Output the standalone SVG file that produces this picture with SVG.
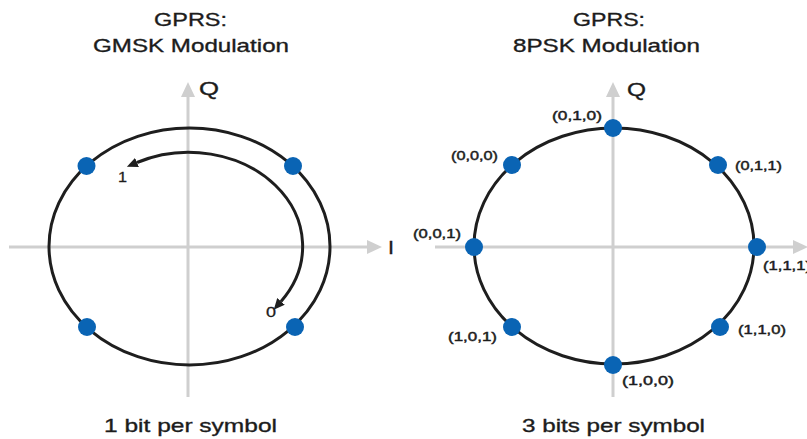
<svg xmlns="http://www.w3.org/2000/svg" width="807" height="439" viewBox="0 0 807 439">
<style>
  text { font-family: "Liberation Sans", Arial, sans-serif; fill: #1c1c1c; }
  .title { font-size: 19px; stroke: #1c1c1c; stroke-width: 0.35; }
  .axlab { font-size: 19px; stroke: #1c1c1c; stroke-width: 0.35; }
  .lab { font-size: 13px; stroke: #1c1c1c; stroke-width: 0.45; }
  .num { font-size: 15px; stroke: #1c1c1c; stroke-width: 0.3; }
  .cap { font-size: 19px; stroke: #1c1c1c; stroke-width: 0.35; }
  .axis { stroke: #cfcfcf; stroke-width: 3; fill: none; }
  .ring { stroke: #1e1e1e; stroke-width: 3; fill: none; }
  .arc { stroke: #1e1e1e; stroke-width: 3; fill: none; }
  .dot { fill: #0a64b4; }
</style>
<defs>
  <marker id="axhead" markerUnits="userSpaceOnUse" markerWidth="16" markerHeight="14" refX="0" refY="7" orient="auto">
    <path d="M0,0 L15,7 L0,14 z" fill="#cfcfcf"/>
  </marker>
  <marker id="archead" markerUnits="userSpaceOnUse" markerWidth="12" markerHeight="10" refX="0" refY="5" orient="auto-start-reverse">
    <path d="M0,0 L11,5 L0,10 z" fill="#1e1e1e"/>
  </marker>
</defs>
<rect width="807" height="439" fill="#ffffff"/>

<g id="titles">
  <text class="title" x="154" y="26" textLength="73" lengthAdjust="spacingAndGlyphs">GPRS:</text>
  <text class="title" x="93" y="52" textLength="196" lengthAdjust="spacingAndGlyphs">GMSK Modulation</text>
  <text class="title" x="573" y="26" textLength="72" lengthAdjust="spacingAndGlyphs">GPRS:</text>
  <text class="title" x="513" y="52" textLength="187" lengthAdjust="spacingAndGlyphs">8PSK Modulation</text>
  <text class="cap" x="104" y="432" textLength="173" lengthAdjust="spacingAndGlyphs">1 bit per symbol</text>
  <text class="cap" x="522" y="432" textLength="183" lengthAdjust="spacingAndGlyphs">3 bits per symbol</text>
</g>

<g id="connectors">
  <line class="axis" x1="188" y1="397" x2="188" y2="97" marker-end="url(#axhead)"/>
  <line class="axis" x1="9" y1="247" x2="367" y2="247" marker-end="url(#axhead)"/>
  <line class="axis" x1="613" y1="397" x2="613" y2="97" marker-end="url(#axhead)"/>
  <line class="axis" x1="435" y1="247" x2="793" y2="247" marker-end="url(#axhead)"/>
  <ellipse class="ring" cx="189.5" cy="246.5" rx="140.5" ry="118.5"/>
  <ellipse class="ring" cx="614" cy="246" rx="140" ry="118"/>
  <path class="arc" d="M 137 162.5 A 114 94 0 0 1 281 301.4" marker-start="url(#archead)" marker-end="url(#archead)"/>
</g>

<g id="axis-labels">
  <text class="axlab" x="199" y="95" textLength="20" lengthAdjust="spacingAndGlyphs">Q</text>
  <text class="axlab" x="388" y="254" textLength="6" lengthAdjust="spacingAndGlyphs">I</text>
  <text class="axlab" x="627" y="96" textLength="19" lengthAdjust="spacingAndGlyphs">Q</text>
  <text class="num" x="118" y="182" textLength="9" lengthAdjust="spacingAndGlyphs">1</text>
  <text class="num" x="266" y="317" textLength="10" lengthAdjust="spacingAndGlyphs">0</text>
</g>

<g id="gmsk-p1"><circle class="dot" cx="86.5" cy="166" r="9"/></g>
<g id="gmsk-p2"><circle class="dot" cx="293" cy="166" r="9"/></g>
<g id="gmsk-p3"><circle class="dot" cx="87" cy="327" r="9"/></g>
<g id="gmsk-p4"><circle class="dot" cx="295" cy="327" r="9"/></g>

<g id="psk-010"><circle class="dot" cx="613" cy="128" r="9"/><text class="lab" x="552" y="120" textLength="50" lengthAdjust="spacingAndGlyphs">(0,1,0)</text></g>
<g id="psk-000"><circle class="dot" cx="512" cy="165" r="9"/><text class="lab" x="451" y="160" textLength="47" lengthAdjust="spacingAndGlyphs">(0,0,0)</text></g>
<g id="psk-011"><circle class="dot" cx="718" cy="165" r="9"/><text class="lab" x="735" y="170" textLength="47" lengthAdjust="spacingAndGlyphs">(0,1,1)</text></g>
<g id="psk-001"><circle class="dot" cx="474" cy="247" r="9"/><text class="lab" x="413" y="238" textLength="48" lengthAdjust="spacingAndGlyphs">(0,0,1)</text></g>
<g id="psk-111"><circle class="dot" cx="757" cy="247" r="9"/><text class="lab" x="763" y="270" textLength="48" lengthAdjust="spacingAndGlyphs">(1,1,1)</text></g>
<g id="psk-101"><circle class="dot" cx="512" cy="327" r="9"/><text class="lab" x="448" y="341" textLength="49" lengthAdjust="spacingAndGlyphs">(1,0,1)</text></g>
<g id="psk-100"><circle class="dot" cx="613" cy="365" r="9"/><text class="lab" x="622" y="385" textLength="52" lengthAdjust="spacingAndGlyphs">(1,0,0)</text></g>
<g id="psk-110"><circle class="dot" cx="720" cy="327" r="9"/><text class="lab" x="738" y="334" textLength="48" lengthAdjust="spacingAndGlyphs">(1,1,0)</text></g>
</svg>
